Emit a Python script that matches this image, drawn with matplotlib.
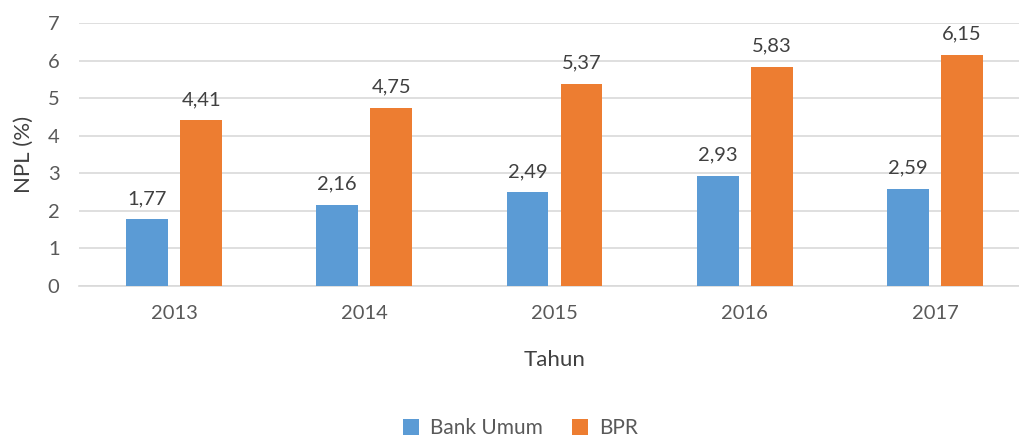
import numpy as np
import matplotlib.pyplot as plt

plt.rcParams['font.family'] = ['Lato', 'DejaVu Sans']

tahun = ['2013', '2014', '2015', '2016', '2017']
bank_umum = [1.77, 2.16, 2.49, 2.93, 2.59]
bpr = [4.41, 4.75, 5.37, 5.83, 6.15]

biru = '#5B9BD5'
oranye = '#ED7D31'
abu = '#595959'

fig = plt.figure(figsize=(10.2, 4.37), dpi=100)
ax = fig.add_axes([79/1020, 1-286/437, (1030-79)/1020, (286-23)/437])

x = np.arange(len(tahun))
w = 0.22
d = 0.142
b1 = ax.bar(x - d, bank_umum, w, color=biru, label='Bank Umum', zorder=3)
b2 = ax.bar(x + d, bpr, w, color=oranye, label='BPR', zorder=3)

for bars, vals in [(b1, bank_umum), (b2, bpr)]:
    for r, v in zip(bars, vals):
        ax.text(r.get_x() + r.get_width()/2, v + 0.33, f'{v:.2f}'.replace('.', ','),
                ha='center', va='bottom', fontsize=14.5, color='#404040')

ax.set_xlim(-0.5, 4.5)
ax.set_ylim(0, 7)
ax.set_yticks(range(8))
ax.set_xticks(x)
ax.set_xticklabels(tahun)
ax.grid(axis='y', color='#D9D9D9', linewidth=1.2, zorder=0)
for s in ['top', 'right', 'left']:
    ax.spines[s].set_visible(False)
ax.spines['bottom'].set_color('#D9D9D9')
ax.spines['bottom'].set_linewidth(1.2)
ax.tick_params(axis='both', length=0, labelsize=14.5, colors=abu)
ax.tick_params(axis='x', pad=14)
ax.tick_params(axis='y', pad=14)

ax.set_xlabel('Tahun', fontsize=16, color='#404040', labelpad=20)
ax.set_ylabel('NPL (%)', fontsize=16, color='#404040', labelpad=10)

fig.legend(handles=[b1, b2], loc='center', bbox_to_anchor=(0.51, 1-428/437),
           ncol=2, frameon=False, fontsize=15, labelcolor=abu,
           handlelength=0.8, handleheight=0.8, handletextpad=0.5, columnspacing=1.4)

fig.savefig('out.png', dpi=100)
